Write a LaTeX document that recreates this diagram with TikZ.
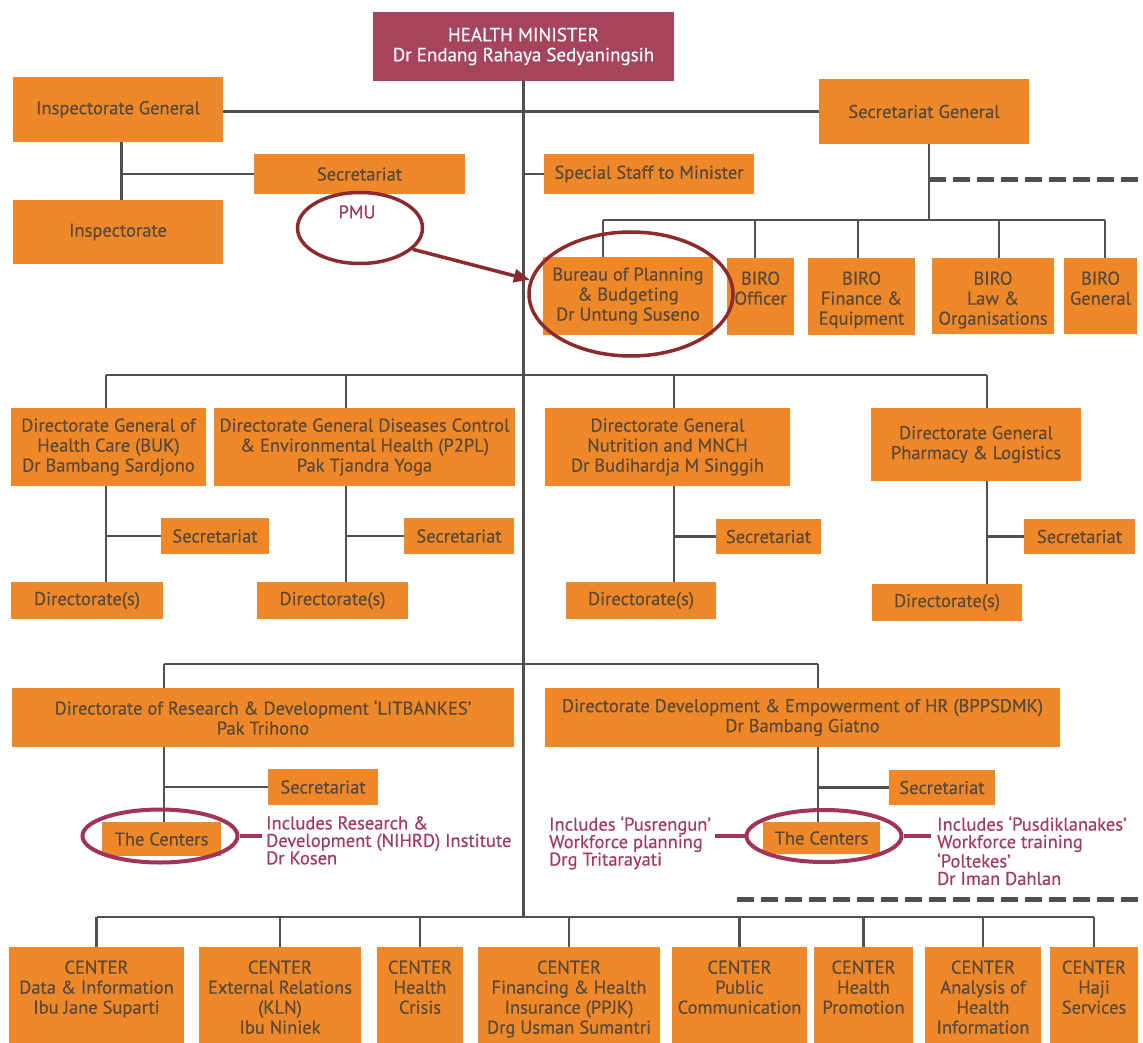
\documentclass[tikz,border=0pt]{standalone}
\usepackage{fontspec}
\setmainfont{PT Sans}[FakeBold=0.35]
\usetikzlibrary{shapes.geometric,arrows.meta}
\definecolor{boxorange}{HTML}{EE8829}
\definecolor{boxtxt}{HTML}{5A4838}
\definecolor{lngrey}{HTML}{505050}
\definecolor{hmred}{HTML}{A6445E}
\definecolor{ellred}{HTML}{8C2B2E}
\definecolor{ellpink}{HTML}{A2345C}
\definecolor{pinktxt}{HTML}{A23A5E}
\newcommand\boxfont{\fontsize{18.5}{20}\selectfont}
\newcommand\pinkfont{\fontsize{18.5}{17.5}\selectfont}
\tikzset{
  box/.style={fill=boxorange, text=boxtxt, inner sep=0pt, align=center, font=\boxfont},
  hmbox/.style={fill=hmred, text=white, font=\fontsize{19}{20}\selectfont},
  boxtext/.style={text=boxtxt, inner sep=0pt, align=center, font=\boxfont},
  ln/.style={draw=lngrey, line width=2.5pt},
  dsh/.style={draw=lngrey, line width=5pt, dash pattern=on 17pt off 7pt},
  redell/.style={ellipse, draw=ellred, line width=3.5pt, inner sep=0pt},
  pinkell/.style={ellipse, draw=ellpink, line width=4pt, inner sep=0pt},
  redarr/.style={draw=ellred, line width=3.5pt, -{Triangle[length=16pt,width=13pt]}},
  pinkln/.style={draw=ellpink, line width=4pt},
  pinktext/.style={text=pinktxt, inner sep=0pt, align=left, font=\pinkfont}
}
% \obox[style]{name}{x1}{y1}{x2}{y2}{text}
\newcommand\obox[7][]{\node[box,#1,minimum width={#5-#3},minimum height={#6-#4}] (#2) at ({(#3+#5)/2},{(#4+#6)/2}) {#7};}
\begin{document}
\begin{tikzpicture}[x=1pt,y=-1pt]
\useasboundingbox (0,0) rectangle (1143,1043);
\clip (0,0) rectangle (1143,1043);
\fill[white] (0,0) rectangle (1143,1043);

% ---------- boxes ----------
\obox[hmbox]{hm}{373}{12}{674}{81}{HEALTH MINISTER\\Dr Endang Rahaya Sedyaningsih}
\obox{ig}{13}{77}{223}{142}{Inspectorate General}
\obox{sg}{819}{79}{1029}{144}{Secretariat General}
\obox{isec}{254}{154}{465}{194}{Secretariat}
\obox{insp}{13}{200}{223}{264}{Inspectorate}
\obox{ss}{544}{154}{754}{194}{Special Staff to Minister}
\obox{bur}{543}{257}{713}{335}{Bureau of Planning\\\& Budgeting\\Dr Untung Suseno}
\obox{b1}{727}{258}{794}{335}{}
\obox{b2}{808}{258}{915}{335}{}
\obox{b3}{932}{258}{1054}{334}{}
\obox{b4}{1064}{258}{1137}{334}{}
\node[boxtext,anchor=north] (b1t) at ([yshift=-13.5pt]b1.north) {BIRO\\Officer};
\node[boxtext,anchor=north] (b2t) at ([yshift=-13.5pt]b2.north) {BIRO\\Finance \&\\Equipment};
\node[boxtext,anchor=north] (b3t) at ([yshift=-13.5pt]b3.north) {BIRO\\Law \&\\Organisations};
\node[boxtext,anchor=north] (b4t) at ([yshift=-13.5pt]b4.north) {BIRO\\General};

\obox{dg1}{11}{408}{206}{486}{Directorate General of\\Health Care (BUK)\\Dr Bambang Sardjono}
\obox{dg2}{214}{408}{515}{486}{Directorate General Diseases Control\\\& Environmental Health (P2PL)\\Pak Tjandra Yoga}
\obox{dg3}{545}{408}{790}{486}{Directorate General\\Nutrition and MNCH\\Dr Budihardja M Singgih}
\obox{dg4}{871}{408}{1081}{481}{Directorate General\\Pharmacy \& Logistics}
\obox{s1}{161}{518}{269}{554}{Secretariat}
\obox{s2}{404}{518}{514}{554}{Secretariat}
\obox{s3}{716}{519}{821}{554}{Secretariat}
\obox{s4}{1024}{519}{1135}{554}{Secretariat}
\obox{d1}{11}{582}{163}{619}{Directorate(s)}
\obox{d2}{257}{582}{408}{619}{Directorate(s)}
\obox{d3}{566}{582}{716}{619}{Directorate(s)}
\obox{d4}{872}{584}{1022}{621}{Directorate(s)}

\obox{lit}{12}{688}{514}{747}{Directorate of Research \& Development ‘LITBANKES’\\Pak Trihono}
\obox{bpp}{545}{688}{1060}{747}{Directorate Development \& Empowerment of HR (BPPSDMK)\\Dr Bambang Giatno}
\obox{ls}{268}{769}{378}{805}{Secretariat}
\obox{bs}{889}{770}{995}{805}{Secretariat}
\obox{lc}{102}{822}{221}{856}{The Centers}
\obox{bc}{763}{822}{880}{854}{The Centers}

\obox{c1}{9}{947}{184}{1060}{}
\obox{c2}{199}{947}{361}{1060}{}
\obox{c3}{377}{947}{463}{1060}{}
\obox{c4}{478}{947}{660}{1060}{}
\obox{c5}{672}{947}{807}{1060}{}
\obox{c6}{814}{947}{913}{1060}{}
\obox{c7}{925}{947}{1041}{1060}{}
\obox{c8}{1050}{947}{1138}{1060}{}
\node[boxtext,anchor=north] (c1t) at ([yshift=-13.5pt]c1.north) {CENTER\\Data \& Information\\Ibu Jane Suparti};
\node[boxtext,anchor=north] (c2t) at ([yshift=-13.5pt]c2.north) {CENTER\\External Relations\\(KLN)\\Ibu Niniek};
\node[boxtext,anchor=north] (c3t) at ([yshift=-13.5pt]c3.north) {CENTER\\Health\\Crisis};
\node[boxtext,anchor=north] (c4t) at ([yshift=-13.5pt]c4.north) {CENTER\\Financing \& Health\\Insurance (PPJK)\\Drg Usman Sumantri};
\node[boxtext,anchor=north] (c5t) at ([yshift=-13.5pt]c5.north) {CENTER\\Public\\Communication};
\node[boxtext,anchor=north] (c6t) at ([yshift=-13.5pt]c6.north) {CENTER\\Health\\Promotion};
\node[boxtext,anchor=north] (c7t) at ([yshift=-13.5pt]c7.north) {CENTER\\Analysis of\\Health\\Information};
\node[boxtext,anchor=north] (c8t) at ([yshift=-13.5pt]c8.north) {CENTER\\Haji\\Services};

% ---------- bus coordinates ----------
\coordinate (sgbus) at (929,220);
\coordinate (sgdash) at (1143,180);
\coordinate (dgbus) at (525,375);
\coordinate (litbus) at (525,664);
\coordinate (bbus) at (525,917);
\coordinate (dash2a) at (737,899);
\coordinate (dash2b) at (1143,899);

% ---------- connectors ----------
\draw[ln] (hm.south) -- (hm.south |- bbus);
\draw[ln] (sg.west -| ig.east) -- (sg.west);
\draw[ln] ([xshift=3.5pt]ig.south) -- ([xshift=3.5pt]insp.north);
\draw[ln] ([xshift=3.5pt]ig.south |- isec.west) -- (isec.west);
\draw[ln] (hm.south |- ss.west) -- (ss.west);
\draw[ln] ([xshift=5pt]sg.south) -- ([xshift=5pt]sg.south |- sgbus);
\draw[dsh] ([xshift=5pt]sg.south |- sgdash) -- (sgdash);
\draw[ln] ([xshift=-25pt]bur.north |- sgbus) -- ([xshift=4.5pt]b4.north |- sgbus);
\foreach \n/\s in {bur/-25,b1/-5.5,b2/-3.5,b3/6,b4/4.5}
  \draw[ln] ([xshift=\s pt]\n.north |- sgbus) -- ([xshift=\s pt]\n.north);

\draw[ln] ([xshift=-2.5pt]dg1.north |- dgbus) -- ([xshift=11pt]dg4.north |- dgbus);
\foreach \g/\s/\e/\d in {dg1/-2.5/s1/d1, dg2/-18.5/s2/d2, dg3/6.5/s3/d3, dg4/11/s4/d4}{
  \draw[ln] ([xshift=\s pt]\g.north |- dgbus) -- ([xshift=\s pt]\g.north);
  \draw[ln] ([xshift=\s pt]\g.south) -- ([xshift=\s pt]\g.south |- \d.north);
  \draw[ln] ([xshift=\s pt]\g.south |- \e.west) -- (\e.west);
}

\draw[ln] ([xshift=-99pt]lit.north |- litbus) -- ([xshift=15.5pt]bpp.north |- litbus);
\draw[ln] ([xshift=-99pt]lit.north |- litbus) -- ([xshift=-99pt]lit.north);
\draw[ln] ([xshift=15.5pt]bpp.north |- litbus) -- ([xshift=15.5pt]bpp.north);
\draw[ln] ([xshift=-99pt]lit.south) -- ([xshift=-99pt]lit.south |- lc.north);
\draw[ln] ([xshift=-99pt]lit.south |- ls.west) -- (ls.west);
\draw[ln] ([xshift=15.5pt]bpp.south) -- ([xshift=15.5pt]bpp.south |- bc.north);
\draw[ln] ([xshift=15.5pt]bpp.south |- bs.west) -- (bs.west);

\draw[dsh] (dash2a) -- (dash2b);
\draw[ln] (c1.north |- bbus) -- (c8.north |- bbus);
\foreach \n in {c1,c2,c3,c4,c5,c6,c7,c8}
  \draw[ln] (\n.north |- bbus) -- (\n.north);

% ---------- annotations ----------
\node[pinktext,font=\fontsize{18.5}{18}\selectfont] (pmu) at (357,212) {PMU};
\node[redell, minimum width=125pt, minimum height=71pt] (pmue) at (360,228) {};
\node[redell, minimum width=204pt, minimum height=124pt] (bure) at (631,294) {};
\draw[redarr] (pmue.-22) -- (bure.172);

\node[pinkell, minimum width=155pt, minimum height=53pt] (lce) at (160,836) {};
\node[pinkell, minimum width=155pt, minimum height=52pt] (bce) at (824,836) {};
\node[pinktext, anchor=north west] (lt) at (266,816) {Includes Research \&\\Development (NIHRD) Institute\\Dr Kosen};
\node[pinktext, anchor=north west] (blt) at (549,816) {Includes ‘Pusrengun’\\Workforce planning\\Drg Tritarayati};
\node[pinktext, anchor=north west] (brt) at (937,816) {Includes ‘Pusdiklanakes’\\Workforce training\\‘Poltekes’\\Dr Iman Dahlan};
\draw[pinkln] (lce.east) -- ([xshift=-4pt]lce.east -| lt.west);
\draw[pinkln] (bce.west) -- ([xshift=4pt]bce.west -| blt.east);
\draw[pinkln] (bce.east) -- ([xshift=-6pt]bce.east -| brt.west);
\end{tikzpicture}
\end{document}
